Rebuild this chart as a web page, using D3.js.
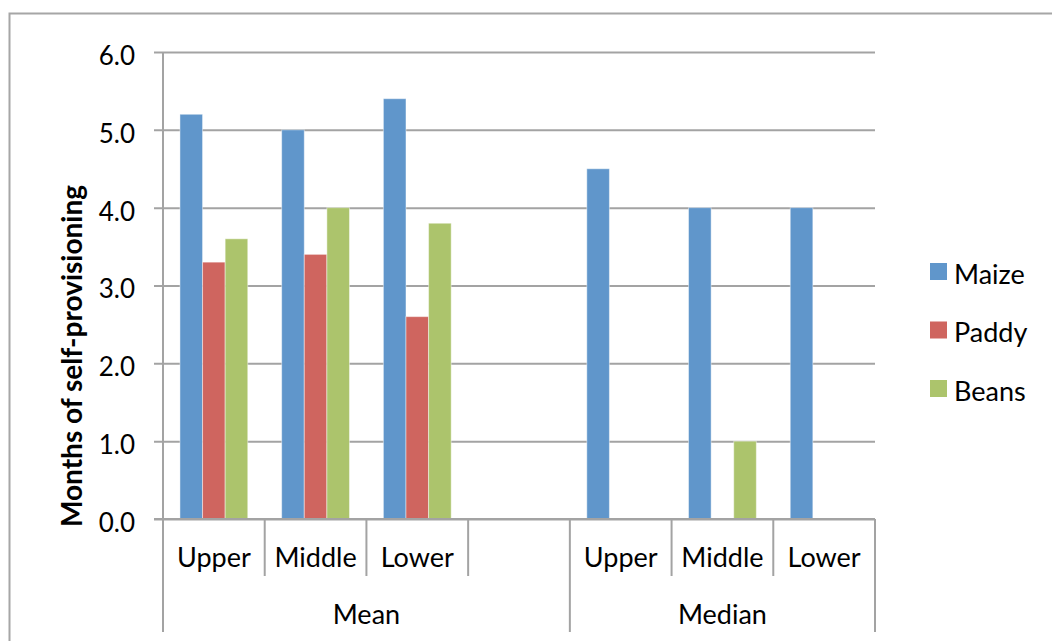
<!DOCTYPE html>
<html>
<head>
<meta charset="utf-8">
<script src="https://cdn.jsdelivr.net/npm/d3@7"></script>
<style>
  html, body { margin: 0; padding: 0; background: #fff; }
  svg { display: block; }
  text { font-family: Lato, "Open Sans", sans-serif; fill: #000; }
</style>
</head>
<body>
<svg id="chart" width="1052" height="641"></svg>
<script>
// Category slots along the x axis (the fourth slot of "Mean" is left empty)
const slotKeys   = ["Mean-Upper", "Mean-Middle", "Mean-Lower", "Mean-blank", "Median-Upper", "Median-Middle", "Median-Lower"];
const slotLabels = ["Upper", "Middle", "Lower", "", "Upper", "Middle", "Lower"];
const groupNames = ["Mean", "Median"];
const groupSpans = [[0, 4], [4, 7]];   // slot index ranges [start, end)

// Series values (months of self-provisioning)
const seriesNames = ["Maize", "Paddy", "Beans"];
const maize = [5.2, 5.0, 5.4, null, 4.5, 4.0, 4.0];
const paddy = [3.3, 3.4, 2.6, null, 0, 0, 0];
const beans = [3.6, 4.0, 3.8, null, 0, 1.0, 0];
const seriesValues = [maize, paddy, beans];
const seriesColors = ["#6096cb", "#cf655f", "#acc46c"];

const yTicks = [0, 1, 2, 3, 4, 5, 6];
const yTitle = "Months of self-provisioning";

const svg = d3.select("#chart");
const gridColor = "#a3a3a3";

// Outer chart frame
svg.append("rect")
  .attr("x", 9.5).attr("y", 13.5)
  .attr("width", 1100).attr("height", 700)
  .attr("fill", "none").attr("stroke", "#a6a6a6").attr("stroke-width", 2);

const plot = { left: 163, right: 875, top: 52, bottom: 519 };

const x = d3.scaleBand().domain(slotKeys).range([plot.left, plot.right]).paddingInner(0).paddingOuter(0);
const xs = d3.scaleBand().domain(seriesNames).range([0, x.bandwidth()]).paddingInner(0).paddingOuter(0.75);
const y = d3.scaleLinear().domain([0, 6]).range([plot.bottom, plot.top]);

// Horizontal gridlines with small ticks left of the value axis
const yAxis = d3.axisLeft(y).tickValues(yTicks).tickFormat(d3.format(".1f"))
  .tickSize(-(plot.right - plot.left)).tickSizeOuter(0);
const gy = svg.append("g").attr("transform", `translate(${plot.left},0)`).call(yAxis);
gy.select(".domain").remove();
gy.selectAll(".tick line")
  .attr("x1", -9)
  .attr("stroke", gridColor).attr("stroke-width", 2);
gy.selectAll(".tick text")
  .attr("font-size", 26).attr("dy", "0.48em").attr("x", -28);

// Bars
const barData = [];
slotKeys.forEach((k, i) => {
  seriesNames.forEach((s, j) => {
    const v = seriesValues[j][i];
    if (v !== null && v > 0) barData.push({ slot: k, series: s, value: v, color: seriesColors[j] });
  });
});
svg.append("g").selectAll("rect").data(barData).join("rect")
  .attr("x", d => x(d.slot) + xs(d.series))
  .attr("y", d => y(d.value))
  .attr("width", xs.bandwidth())
  .attr("height", d => y(0) - y(d.value))
  .attr("fill", d => d.color)
  .attr("stroke", "rgba(255,255,255,0.45)").attr("stroke-width", 1);

// Value axis line
svg.append("line")
  .attr("x1", plot.left).attr("x2", plot.left)
  .attr("y1", plot.top).attr("y2", plot.bottom)
  .attr("stroke", gridColor).attr("stroke-width", 2);

// Multi-level category axis
const row1Bottom = 576, row2Bottom = 632;
const catAxis = svg.append("g");
const boundaries = d3.range(slotKeys.length + 1).map(i => i < slotKeys.length ? x(slotKeys[i]) : x.range()[1]);
const outerIdx = new Set([0, ...groupSpans.map(s => s[1])]);
catAxis.selectAll("line.sep").data(boundaries).join("line")
  .attr("class", "sep")
  .attr("x1", d => d).attr("x2", d => d)
  .attr("y1", plot.bottom)
  .attr("y2", (d, i) => outerIdx.has(i) ? row2Bottom : row1Bottom)
  .attr("stroke", gridColor).attr("stroke-width", 2);

catAxis.selectAll("text.lvl").data(slotKeys).join("text")
  .attr("class", "lvl")
  .attr("x", d => x(d) + x.bandwidth() / 2)
  .attr("y", 567)
  .attr("text-anchor", "middle")
  .attr("font-size", 27)
  .text((d, i) => slotLabels[i]);

catAxis.selectAll("text.grp").data(groupNames).join("text")
  .attr("class", "grp")
  .attr("x", (d, i) => (boundaries[groupSpans[i][0]] + boundaries[groupSpans[i][1]]) / 2)
  .attr("y", 624)
  .attr("text-anchor", "middle")
  .attr("font-size", 27)
  .text(d => d);

// Zero line across the plot
svg.append("line")
  .attr("x1", plot.left - 9).attr("x2", plot.right)
  .attr("y1", y(0)).attr("y2", y(0))
  .attr("stroke", gridColor).attr("stroke-width", 2);

// Value axis title
svg.append("text")
  .attr("transform", "translate(82,356) rotate(-90)")
  .attr("text-anchor", "middle")
  .attr("font-size", 28)
  .attr("font-weight", "bold")
  .text(yTitle);

// Legend
const legend = svg.append("g").selectAll("g").data(seriesNames).join("g")
  .attr("transform", (d, i) => `translate(930,${263 + i * 58.5})`);
legend.append("rect")
  .attr("width", 17).attr("height", 17)
  .attr("fill", (d, i) => seriesColors[i]);
legend.append("text")
  .attr("x", 24).attr("y", 20.5)
  .attr("font-size", 27)
  .text(d => d);
</script>
</body>
</html>
